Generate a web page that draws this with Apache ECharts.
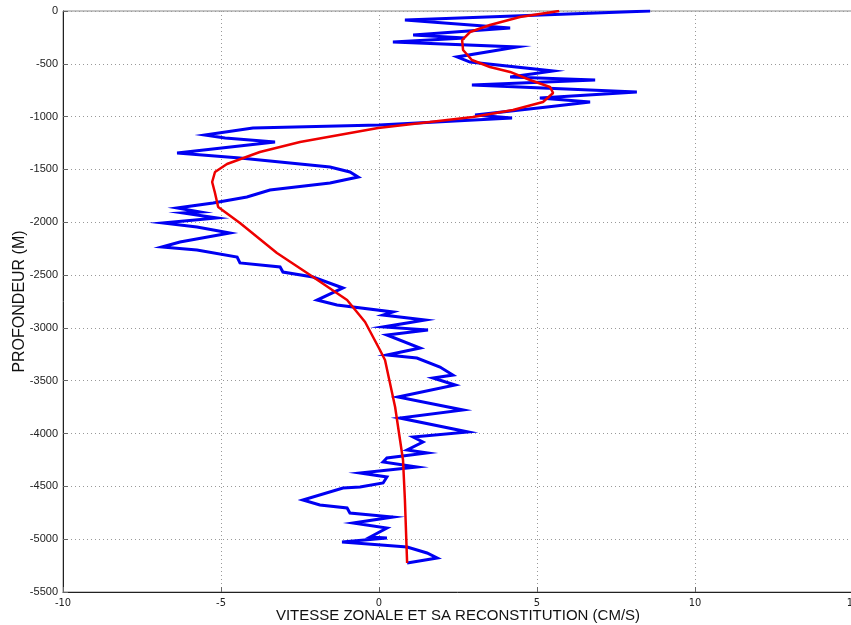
<!DOCTYPE html>
<html>
<head>
<meta charset="utf-8">
<script src="https://cdn.jsdelivr.net/npm/echarts@6/dist/echarts.min.js"></script>
<style>
  html, body { margin: 0; padding: 0; background: #fff; }
  #chart { width: 851px; height: 625px; }
</style>
</head>
<body>
<div id="chart"></div>
<script>
// Measured zonal velocity profile (cm/s) against depth (m)
const measuredVelocity = [
  8.58, 0.82, 4.15, 1.08, 2.72, 0.44, 4.37, 2.47, 2.88, 5.51,
  4.15, 6.84, 2.94, 8.16, 5.09, 6.68, 5.32, 3.04, 4.21, 0.00,
  -3.99, -5.51, -4.87, -3.29, -6.39, -4.40, -1.55, -0.92, -0.66, -1.55,
  -3.45, -4.18, -5.25, -6.39, -5.66, -6.20, -5.13, -6.84, -5.76, -4.72,
  -6.30, -6.87, -5.76, -4.49, -4.40, -3.13, -3.04, -2.09, -1.14, -1.96,
  -1.33, 0.44, 0.13, 1.46, 0.13, 1.55, 0.25, 1.30, 0.25, 1.20,
  1.93, 2.34, 1.71, 2.41, 0.60, 2.66, 0.66, 2.82, 1.08, 1.39,
  0.89, 1.52, 0.25, 0.13, 1.20, -0.60, 0.25, 0.13, -0.60, -1.14,
  -2.41, -1.87, -1.01, -0.92, 0.44, -0.82, 0.25, -0.28, 0.25, -1.17,
  0.89, 1.52, 1.84, 0.89
];
const measuredDepth = [
  0, -85, -161, -227, -256, -293, -341, -435, -483, -568,
  -625, -653, -700, -767, -824, -861, -909, -984, -1013, -1079,
  -1108, -1174, -1202, -1240, -1344, -1392, -1477, -1524, -1571, -1628,
  -1694, -1761, -1817, -1865, -1903, -1912, -1959, -2007, -2045, -2102,
  -2187, -2234, -2262, -2329, -2385, -2423, -2471, -2518, -2622, -2736,
  -2783, -2849, -2878, -2925, -2991, -3020, -3067, -3190, -3256, -3285,
  -3370, -3446, -3474, -3540, -3654, -3777, -3853, -3985, -4033, -4080,
  -4156, -4184, -4231, -4269, -4316, -4373, -4411, -4468, -4506, -4515,
  -4629, -4676, -4705, -4752, -4790, -4847, -4894, -4979, -4989, -5026,
  -5074, -5131, -5178, -5225
];

// Reconstructed (smoothed) profile
const reconVelocity = [
  5.70, 4.46, 3.51, 2.88, 2.63, 2.66, 2.94, 3.51, 4.15, 4.78,
  5.41, 5.51, 5.19, 4.24, 2.97, 1.61, -0.03, -2.50, -3.77, -4.81,
  -5.19, -5.28, -5.19, -5.09, -4.40, -3.23, -2.18, -1.01, -0.44, 0.03,
  0.19, 0.51, 0.76, 0.82, 0.89
];
const reconDepth = [
  0, -57, -133, -199, -275, -369, -464, -530, -577, -653,
  -719, -776, -861, -937, -1003, -1051, -1108, -1240, -1335, -1448,
  -1524, -1619, -1723, -1855, -2007, -2291, -2499, -2736, -2944, -3209,
  -3304, -3749, -4250, -4629, -5225
];

const xTicks = [-10, -5, 0, 5, 10, 15];
const yTicks = [0, -500, -1000, -1500, -2000, -2500, -3000, -3500, -4000, -4500, -5000, -5500];

const pairs = (xs, ys) => xs.map((v, i) => [v, ys[i]]);

const chart = echarts.init(document.getElementById('chart'), null, { renderer: 'canvas' });

const tickFont = 'Liberation Sans Narrow, DejaVu Sans Condensed, Liberation Sans, sans-serif';
const plain = v => String(v);

chart.setOption({
  animation: false,
  backgroundColor: '#ffffff',
  grid: {
    left: 63, top: 11, right: -2, bottom: 33,
    containLabel: false,
    outerBoundsMode: 'none',
    show: true, borderColor: '#8a8a8a', borderWidth: 1
  },
  xAxis: {
    type: 'value',
    min: xTicks[0], max: xTicks[xTicks.length - 1], interval: 5,
    name: 'VITESSE ZONALE ET SA RECONSTITUTION (CM/S)',
    nameLocation: 'middle', nameGap: 16, nameMoveOverlap: false,
    nameTextStyle: { fontFamily: 'Liberation Sans, Arial, sans-serif', fontSize: 15, color: '#111', verticalAlign: 'top', lineHeight: 15 },
    axisLine: { show: true, onZero: false, lineStyle: { color: '#222', width: 1 } },
    axisTick: { show: true, inside: true, length: 5, lineStyle: { color: '#666' } },
    axisLabel: { fontFamily: tickFont, fontSize: 11, color: '#222', margin: 6, formatter: plain },
    splitLine: { show: true, lineStyle: { type: [1, 3], color: '#999', width: 1 } }
  },
  yAxis: {
    type: 'value',
    min: yTicks[yTicks.length - 1], max: yTicks[0], interval: 500,
    name: 'PROFONDEUR (M)',
    nameLocation: 'middle', nameGap: 35, nameRotate: 90, nameMoveOverlap: false,
    nameTextStyle: { fontFamily: 'Liberation Sans, Arial, sans-serif', fontSize: 16, color: '#111' },
    axisLine: { show: true, onZero: false, lineStyle: { color: '#222', width: 1 } },
    axisTick: { show: true, inside: true, length: 5, lineStyle: { color: '#666' } },
    axisLabel: { fontFamily: 'Liberation Sans, Arial, sans-serif', fontSize: 11, color: '#222', margin: 5, formatter: plain },
    splitLine: { show: true, lineStyle: { type: [1, 3], color: '#999', width: 1 } }
  },
  series: [
    {
      name: 'mesure',
      type: 'line',
      data: pairs(measuredVelocity, measuredDepth),
      showSymbol: false,
      lineStyle: { color: '#0000f2', width: 3, join: 'miter' },
      z: 2
    },
    {
      name: 'reconstitution',
      type: 'line',
      data: pairs(reconVelocity, reconDepth),
      showSymbol: false,
      smooth: false,
      lineStyle: { color: '#ee0000', width: 2.5 },
      z: 3
    }
  ]
});
</script>
</body>
</html>
